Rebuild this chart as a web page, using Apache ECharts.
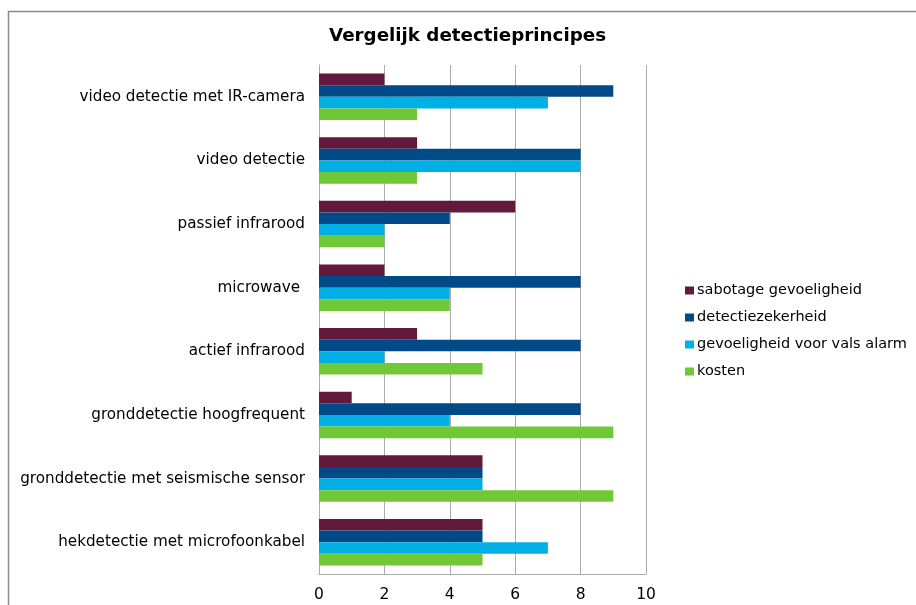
<!DOCTYPE html>
<html>
<head>
<meta charset="utf-8">
<script src="https://cdn.jsdelivr.net/npm/echarts@6/dist/echarts.min.js"></script>
<style>html,body{margin:0;padding:0;background:#fff;}#chart{width:916px;height:605px;}</style>
</head>
<body>
<div id="chart"></div>
<script>
const categories = [
  "hekdetectie met microfoonkabel",
  "gronddetectie met seismische sensor",
  "gronddetectie hoogfrequent",
  "actief infrarood",
  "microwave ",
  "passief infrarood",
  "video detectie",
  "video detectie met IR-camera"
];
const sabotage = [5, 5, 1, 3, 2, 6, 3, 2];
const detectiezekerheid = [5, 5, 8, 8, 8, 4, 8, 9];
const valsAlarm = [7, 5, 4, 2, 4, 2, 8, 7];
const kosten = [5, 9, 9, 5, 4, 2, 3, 3];
const xTicks = [0, 2, 4, 6, 8, 10];

const font = "DejaVu Sans";
const chart = echarts.init(document.getElementById('chart'), null, {renderer: 'canvas'});
const mk = (name, data, color) => ({
  name, type: 'bar', data, barGap: '0%', barCategoryGap: '27%',
  itemStyle: {color}, emphasis: {disabled: true}
});
chart.setOption({
  animation: false,
  backgroundColor: '#fff',
  title: {
    text: 'Vergelijk detectieprincipes', left: 324, top: 22,
    textStyle: {fontFamily: font, fontSize: 18.3, fontWeight: 'bold', color: '#000'}
  },
  graphic: [{
    type: 'rect', shape: {x: 8.5, y: 11.5, width: 1000, height: 1000},
    style: {fill: null, stroke: '#8c8c8c', lineWidth: 1.5}, silent: true
  }],
  legend: {
    orient: 'vertical', left: 680, top: 278, itemWidth: 9, itemHeight: 8, itemGap: 12,
    icon: 'rect',
    data: ['sabotage gevoeligheid', 'detectiezekerheid', 'gevoeligheid voor vals alarm', 'kosten'],
    textStyle: {fontFamily: font, fontSize: 14.5, color: '#000', padding: [0, 0, 0, -2]}
  },
  grid: {left: 319, right: 270, top: 65, bottom: 31, containLabel: false},
  xAxis: {
    type: 'value', min: xTicks[0], max: xTicks[xTicks.length - 1], interval: 2,
    axisLine: {show: true, lineStyle: {color: '#ababab'}},
    axisTick: {show: false},
    splitLine: {show: true, lineStyle: {color: '#ababab'}},
    axisLabel: {fontFamily: font, fontSize: 15.5, color: '#000', margin: 13}
  },
  yAxis: {
    type: 'category', data: categories,
    axisLine: {show: true, lineStyle: {color: '#ababab'}},
    axisTick: {show: false},
    axisLabel: {fontFamily: font, fontSize: 15.2, color: '#000', margin: 14}
  },
  series: [
    mk('sabotage gevoeligheid', sabotage, '#62193d'),
    mk('detectiezekerheid', detectiezekerheid, '#004b87'),
    mk('gevoeligheid voor vals alarm', valsAlarm, '#00b0e4'),
    mk('kosten', kosten, '#71c837')
  ]
});
</script>
</body>
</html>
